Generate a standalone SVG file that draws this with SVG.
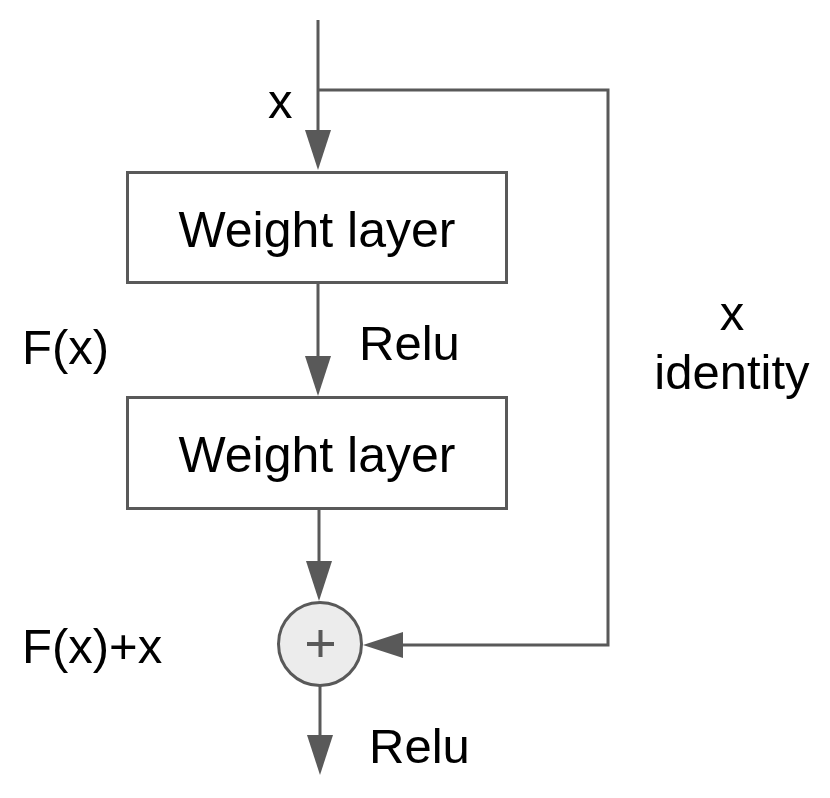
<svg xmlns="http://www.w3.org/2000/svg" width="830" height="798" viewBox="0 0 830 798">
  <style>
    .lbl { font-family: "Liberation Sans", Arial, sans-serif; font-size: 49px; fill: #000; }
    .big { font-size: 50px; }
    .box { fill: #fff; stroke: #595959; stroke-width: 3; }
    .conn { fill: none; stroke: #595959; stroke-width: 3; }
  </style>
  <defs>
    <marker id="arr" markerUnits="userSpaceOnUse" markerWidth="40" markerHeight="26" refX="30" refY="13" orient="auto">
      <path d="M0,0 L40,13 L0,26 z" fill="#595959"/>
    </marker>
  </defs>
  <rect width="830" height="798" fill="#fff"/>

  <g id="connectors">
    <line class="conn" x1="318" y1="20" x2="318" y2="160" marker-end="url(#arr)"/>
    <polyline class="conn" points="318,90 608,90 608,645 373,645" marker-end="url(#arr)"/>
    <line class="conn" x1="318" y1="284" x2="318" y2="386" marker-end="url(#arr)"/>
    <line class="conn" x1="319" y1="510" x2="319" y2="591" marker-end="url(#arr)"/>
    <line class="conn" x1="320" y1="686" x2="320" y2="765" marker-end="url(#arr)"/>
  </g>

  <g id="weight1">
    <rect class="box" x="127.5" y="172.5" width="379" height="110"/>
    <text class="lbl big" x="317" y="247" text-anchor="middle">Weight layer</text>
  </g>

  <g id="weight2">
    <rect class="box" x="127.5" y="397.5" width="379" height="111"/>
    <text class="lbl big" x="317" y="472" text-anchor="middle">Weight layer</text>
  </g>

  <g id="sum">
    <circle cx="320" cy="644" r="41.5" fill="#ececec" stroke="#595959" stroke-width="3"/>
    <path d="M307,644 H334 M320.5,630 V657" stroke="#595959" stroke-width="4" fill="none"/>
  </g>

  <g id="labels">
    <text class="lbl" x="268" y="118">x</text>
    <text class="lbl" x="22" y="364">F(x)</text>
    <text class="lbl" x="359" y="360">Relu</text>
    <text class="lbl" x="732" y="330" text-anchor="middle">x</text>
    <text class="lbl" x="732" y="389" text-anchor="middle">identity</text>
    <text class="lbl" x="22" y="663">F(x)+x</text>
    <text class="lbl" x="369" y="763">Relu</text>
  </g>
</svg>
